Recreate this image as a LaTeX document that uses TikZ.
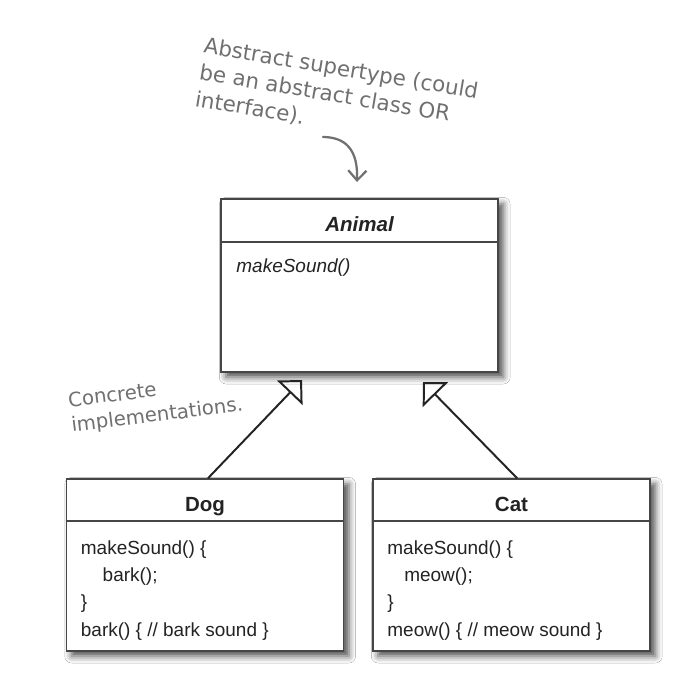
\documentclass[tikz,border=0pt]{standalone}
\usepackage{fontspec}
\setsansfont{Liberation Sans}
\newfontfamily\handfont{DejaVu Sans}
\usetikzlibrary{arrows.meta, positioning, calc, shadows.blur}
\definecolor{umlInk}{RGB}{35,35,35}
\definecolor{umlEdge}{RGB}{70,70,70}
\definecolor{noteInk}{RGB}{112,112,112}
\tikzset{
  % class rectangle with its soft shadow
  classbox/.style={
    draw=umlEdge, fill=white, line width=1.1pt,
    minimum width=6.93cm, minimum height=4.3cm, inner sep=0pt,
    blur shadow={shadow xshift=0.13cm, shadow yshift=-0.13cm,
                 shadow blur radius=0.17cm, shadow opacity=70}
  },
  divider/.style={draw=umlEdge, line width=1.1pt},
  % texts inside the classes (multi-line nodes sit on their last line)
  classname/.style={font=\sffamily\bfseries\fontsize{14.6}{17}\selectfont,
                    text=umlInk, anchor=base, inner sep=0pt},
  member/.style={font=\sffamily\fontsize{13.5}{19.4}\selectfont,
                 text=umlInk, align=left, anchor=base west, inner sep=0pt},
  % hand-written remarks
  remark/.style={font=\handfont, text=noteInk, align=left,
                 anchor=base west, inner sep=0pt},
  % arrows
  inherit/.style={-{Triangle[open, length=12.6pt, width=25pt]},
                  draw=umlInk, line width=1.4pt, line join=miter},
  pointer/.style={-{Straight Barb[length=7pt, width=13pt]}, draw=noteInk,
                  line width=1.6pt, line cap=round},
}

\begin{document}
\begin{tikzpicture}

\useasboundingbox[fill=white] (0,0) rectangle (17.5,-16.975);

% ===========================================================================
% SUPERTYPE
% ===========================================================================
\node[classbox, minimum height=4.325cm] (animal) at (8.9875,-7.1375) {};
\draw[divider] ($(animal.north west)+(0,-1.1)$) -- ($(animal.north east)+(0,-1.1)$);
\node[classname, font=\sffamily\bfseries\itshape\fontsize{14.6}{17}\selectfont]
      (animalTitle) at ($(animal.north)+(0,-0.825)$) {Animal};
\node[member, font=\sffamily\itshape\fontsize{13.5}{18.5}\selectfont]
      (animalOps) at ($(animal.north west)+(0.4,-1.85)$) {makeSound()};

% ===========================================================================
% CONCRETE CLASSES
% ===========================================================================
\node[classbox] (dog) at (5.125,-14.125) {};
\draw[divider] ($(dog.north west)+(0,-1.075)$) -- ($(dog.north east)+(0,-1.075)$);
\node[classname] (dogTitle) at ($(dog.north)+(0,-0.825)$) {Dog};
\node[member] (dogOps) at ($(dog.north west)+(0.375,-3.95)$)
      {makeSound() \{\\
       \hspace*{15.5pt}bark();\\
       \}\\
       bark() \{ // bark sound \}};

\node[classbox] (cat) at (12.7875,-14.125) {};
\draw[divider] ($(cat.north west)+(0,-1.075)$) -- ($(cat.north east)+(0,-1.075)$);
\node[classname] (catTitle) at ($(cat.north)+(0,-0.825)$) {Cat};
\node[member] (catOps) at ($(cat.north west)+(0.375,-3.95)$)
      {makeSound() \{\\
       \hspace*{12pt}meow();\\
       \}\\
       meow() \{ // meow sound \}};

% generalisation arrows
\coordinate (dogTip) at (7.55,-9.5);
\coordinate (catTip) at (10.575,-9.55);
\draw[inherit] ([xshift=0.075cm]dog.north) -- (dogTip);
\draw[inherit] ([xshift=0.14cm]cat.north) -- (catTip);

% ===========================================================================
% REMARKS
% ===========================================================================
\node[remark, rotate=-9.5, font=\handfont\fontsize{15.2}{19.2}\selectfont]
      (noteAbstract) at (4.85,-2.65)
      {Abstract supertype (could\\
       be an abstract class OR\\
       interface).};

\coordinate (pointerStart) at (8.075,-3.425);
\coordinate (pointerTip) at (8.925,-4.55);
\draw[pointer] (pointerStart) .. controls (8.65,-3.43) and (8.95,-3.75) .. (pointerTip);

\node[remark, rotate=7, font=\handfont\fontsize{14}{17.8}\selectfont]
      (noteConcrete) at (1.8,-10.8)
      {Concrete\\
       implementations.};

\end{tikzpicture}
\end{document}
